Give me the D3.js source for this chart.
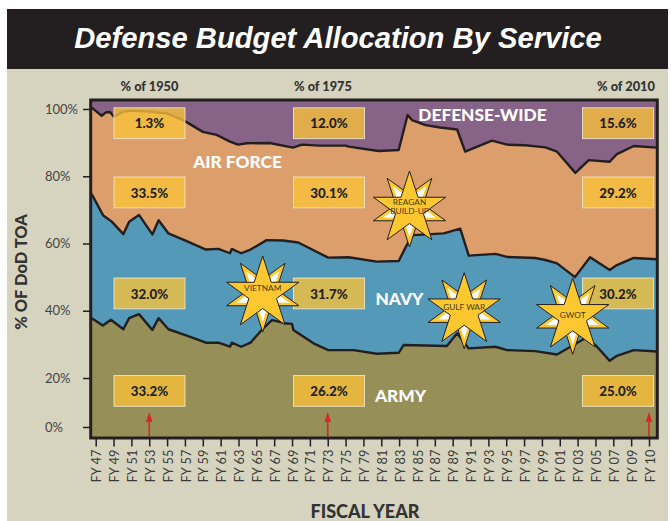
<!DOCTYPE html>
<html>
<head>
<meta charset="utf-8">
<script src="https://cdn.jsdelivr.net/npm/d3@7"></script>
<style>
  html, body { margin: 0; padding: 0; background: #fff; }
  svg { display: block; }
  text { font-family: Lato, sans-serif; }
</style>
</head>
<body>
<svg id="chart" width="671" height="521"></svg>
<script>
// axis
var tickLabels = ['FY 47','FY 49','FY 51','FY 53','FY 55','FY 57','FY 59','FY 61','FY 63','FY 65','FY 67','FY 69','FY 71','FY 73','FY 75','FY 79','FY 81','FY 83','FY 85','FY 87','FY 89','FY 91','FY 93','FY 95','FY 97','FY 99','FY 01','FY 03','FY 05','FY 07','FY 09','FY 10'];
var tickYears = [1947,1949,1951,1953,1955,1957,1959,1961,1963,1965,1967,1969,1971,1973,1975,1979,1981,1983,1985,1987,1989,1991,1993,1995,1997,1999,2001,2003,2005,2007,2009,2010];
var pctTicks = [0,20,40,60,80,100];

// cumulative top of each band
var airForceYears = [1946.55,1947.67,1948.15,1948.6,1949.05,1950.06,1951.18,1952.7,1954.95,1956.8,1957.75,1959,1960.55,1962.05,1962.95,1963.9,1966.5,1969.1,1970.1,1972.1,1975,1975.7,1980.7,1982.95,1983.95,1984.45,1985.95,1987.6,1989.5,1990.4,1993.4,1995.1,1997.15,1999.4,2000.7,2002.75,2004.25,2006.6,2007.4,2009.15,2010.45];
var airForceTop = [100.4,98,99,99.1,97.7,99.2,99.5,99.3,98.7,96.7,95.2,93.2,92.3,90.3,89.4,89.8,89.9,88.5,89.4,89.1,89.1,88.8,87.5,87.8,98.2,96.7,95.2,94.5,93.9,87.3,90.6,89.4,89.2,88.6,87.3,81,84.8,84.3,86.6,89,88.5];

var navyYears = [1946.55,1947.85,1948.8,1950.1,1950.75,1951.85,1953.35,1954.05,1955.15,1957.2,1959.35,1960.75,1962.05,1962.25,1963.3,1964.35,1966.15,1968,1969.7,1973.05,1975.7,1980.5,1982.95,1984.05,1984.6,1988,1989.85,1990.8,1993.8,1995.1,1998.25,1999.4,2000.7,2002.7,2004.4,2006.6,2007.4,2009.15,2010.45];
var navyTop = [74.7,68.3,66.5,62.8,66.5,68.5,62.7,66.9,63,60.7,58.2,58.4,57.1,58.4,57.1,58.2,61,60.9,60.3,55.8,55.9,54.6,54.8,60.5,62.5,63,64.4,56.4,56.9,56,55.7,55.1,54.1,50,55.9,52.1,53.6,55.7,55.3];

var armyYears = [1946.55,1947.8,1948.7,1950.1,1950.75,1951.85,1953.35,1954.05,1955.15,1957.2,1959.35,1960.75,1962.05,1962.25,1963.3,1964.35,1965.6,1966.75,1968.2,1969,1969.15,1971.4,1973.05,1976.8,1980.5,1982.95,1983.5,1988.35,1989.5,1990.8,1993.8,1995.1,1998.25,2000.7,2003.85,2005,2006.6,2007.4,2009.15,2010.45];
var armyTop = [37.8,35.6,37.3,34.5,37.8,39,34.3,37.8,34.5,32.6,30.5,30.5,29.3,30.5,29.3,30.5,34.3,37.2,36.3,36.1,34.3,30.3,28.3,28.3,27.2,27.5,29.8,29.5,33.3,28.8,29.3,28.3,28,27,31.8,29.8,25.1,26.6,28.3,27.9];

// shares printed in the boxes, top band first
var share1950 = [1.3,33.5,32.0,33.2];
var share1975 = [12.0,30.1,31.7,26.2];
var share2010 = [15.6,29.2,30.2,25.0];
var shareColumns = ['% of 1950','% of 1975','% of 2010'];
var arrowTicks = ['FY 53','FY 73','FY 10'];

var bandLabels = ['DEFENSE-WIDE','AIR FORCE','NAVY','ARMY'];
var starLabels = [['VIETNAM'],['REAGAN','BUILD-UP'],['GULF WAR'],['GWOT']];

var ink = '#231f20';
var plot = {left: 90.7, right: 657.3, top: 100, bottom: 438};

var svg = d3.select('#chart');

// page + header band
svg.append('rect').attr('x', 7).attr('y', 9).attr('width', 661).attr('height', 512).attr('fill', '#d6d4bf');
svg.append('rect').attr('x', 7).attr('y', 9).attr('width', 661).attr('height', 60).attr('fill', ink);
svg.append('text')
  .attr('x', 338).attr('y', 47.5)
  .attr('text-anchor', 'middle')
  .attr('fill', '#fff')
  .style('font-family', '"Liberation Sans", Arial, sans-serif')
  .style('font-weight', 'bold')
  .style('font-style', 'italic')
  .style('font-size', '29.2px')
  .text('Defense Budget Allocation By Service');

// scales
var xTick = d3.scalePoint().domain(tickLabels).range([95.7, 649]);
// the axis is not even in years (FY 77 is skipped, FY 09-10 is one step)
var x = d3.scaleLinear().domain(tickYears).range(tickLabels.map(function (d) { return xTick(d); }));
// 0% sits closer to 20% than the rest of the scale would put it
var y = d3.scaleLinear().domain([0, 20, 100]).range([427, 378, 109]);

// bands, painted back to front
svg.append('rect')
  .attr('x', plot.left).attr('y', plot.top)
  .attr('width', plot.right - plot.left).attr('height', plot.bottom - plot.top)
  .attr('fill', '#886388');

var bands = [
  {years: airForceYears, top: airForceTop, color: '#dc9e6a'},
  {years: navyYears, top: navyTop, color: '#5499b8'},
  {years: armyYears, top: armyTop, color: '#968f57'}
];

var area = d3.area()
  .x(function (d) { return x(d[0]); })
  .y0(plot.bottom)
  .y1(function (d) { return y(d[1]); });

var line = d3.line()
  .x(function (d) { return x(d[0]); })
  .y(function (d) { return y(d[1]); });

bands.forEach(function (b) {
  var pts = d3.zip(b.years, b.top);
  svg.append('path').attr('d', area(pts)).attr('fill', b.color);
  svg.append('path').attr('d', line(pts))
    .attr('fill', 'none').attr('stroke', ink).attr('stroke-width', 2.4).attr('stroke-linejoin', 'round');
});

// share boxes
var boxCols = [114, 293.5, 582.5];
var boxRows = [107.8, 177, 278, 375.5];
[share1950, share1975, share2010].forEach(function (vals, c) {
  var g = svg.append('g');
  var cells = g.selectAll('g').data(vals).enter().append('g')
    .attr('transform', function (d, i) { return 'translate(' + boxCols[c] + ',' + boxRows[i] + ')'; });
  cells.append('rect')
    .attr('width', 71).attr('height', 30.8)
    .attr('fill', '#fac23a').attr('fill-opacity', 0.78)
    .attr('stroke', '#efe7cf').attr('stroke-opacity', 0.85).attr('stroke-width', 1);
  cells.append('text')
    .attr('x', 35.5).attr('y', 20.5)
    .attr('text-anchor', 'middle')
    .attr('fill', ink)
    .style('font-weight', 900)
    .style('font-size', '13.3px')
    .text(function (d) { return d3.format('.1f')(d) + '%'; });
});

// column heads
var headX = [149.5, 323, 626];
svg.selectAll('.head').data(shareColumns).enter().append('text')
  .attr('class', 'head')
  .attr('x', function (d, i) { return headX[i]; })
  .attr('y', 90.5)
  .attr('text-anchor', 'middle')
  .attr('fill', '#333')
  .style('font-weight', 900)
  .style('font-size', '12.8px')
  .text(function (d) { return d; });

// band names
var bandPos = [[482.5, 120.7], [237.5, 167.7], [399.5, 304.7], [400.5, 401.7]];
svg.selectAll('.band').data(bandLabels).enter().append('text')
  .attr('class', 'band')
  .attr('x', function (d, i) { return bandPos[i][0]; })
  .attr('y', function (d, i) { return bandPos[i][1]; })
  .attr('text-anchor', 'middle')
  .attr('fill', '#fff')
  .style('font-weight', 900)
  .style('font-size', '17.3px')
  .text(function (d) { return d; });

// red arrows
arrowTicks.forEach(function (t) {
  var ax = xTick(t);
  svg.append('line').attr('x1', ax).attr('x2', ax).attr('y1', 436.5).attr('y2', 420)
    .attr('stroke', '#d8262b').attr('stroke-width', 1.6);
  svg.append('path')
    .attr('d', d3.line()([[ax - 3.3, 422], [ax, 412], [ax + 3.3, 422]]) + 'Z')
    .attr('fill', '#d8262b');
});

// frame
svg.append('rect')
  .attr('x', plot.left).attr('y', plot.top)
  .attr('width', plot.right - plot.left).attr('height', plot.bottom - plot.top)
  .attr('fill', 'none').attr('stroke', ink).attr('stroke-width', 3);

// axes
var xAxis = svg.append('g')
  .attr('transform', 'translate(0,' + (plot.bottom + 1) + ')')
  .call(d3.axisBottom(xTick).tickSize(7.5).tickPadding(0));
xAxis.select('.domain').remove();
xAxis.selectAll('line').attr('stroke', ink).attr('stroke-width', 1.5);
xAxis.selectAll('text')
  .attr('transform', function () { return 'translate(0.5,43.5) rotate(-90)'; })
  .attr('x', 0).attr('y', 0).attr('dy', '0.36em')
  .attr('text-anchor', 'start')
  .attr('fill', '#3a3a3a')
  .style('font-family', 'Lato, sans-serif')
  .style('font-size', '12.8px');

var yAxis = svg.append('g')
  .attr('transform', 'translate(90,0)')
  .call(d3.axisLeft(y).tickValues(pctTicks).tickSize(7).tickFormat(function (d) { return d + '%'; }));
yAxis.select('.domain').remove();
yAxis.selectAll('line').attr('stroke', ink).attr('stroke-width', 1.5);
yAxis.selectAll('text')
  .attr('x', -45).attr('text-anchor', 'start')
  .attr('fill', '#444')
  .style('font-family', 'Lato, sans-serif')
  .style('font-size', '13px');

// axis titles
svg.append('text')
  .attr('transform', 'translate(27,272) rotate(-90)')
  .attr('text-anchor', 'middle')
  .attr('fill', '#333')
  .style('font-weight', 900)
  .style('font-size', '16.5px')
  .text('% OF DoD TOA');
svg.append('text')
  .attr('x', 365).attr('y', 517.5)
  .attr('text-anchor', 'middle')
  .attr('fill', '#333')
  .style('font-weight', 900)
  .style('font-size', '18px')
  .text('FISCAL YEAR');

// event stars
var starCenters = [[262.7, 294], [409.5, 209], [464.2, 310.7], [572.7, 316.3]];
var starTextY = [-3, -4, -0.7, 1.7];
var starR = 38;
var star = d3.lineRadial()
  .angle(function (d) { return d[0]; })
  .radius(function (d) { return d[1]; })
  .curve(d3.curveLinearClosed);
function starPoints(R) {
  return d3.range(10).map(function (i) {
    return [i * Math.PI / 5, i % 2 ? R * 0.382 : R];
  });
}

var stars = svg.selectAll('.star').data(starLabels).enter().append('g')
  .attr('class', 'star')
  .attr('transform', function (d, i) { return 'translate(' + starCenters[i] + ')'; });
stars.append('path')
  .attr('d', star(starPoints(starR)))
  .attr('transform', 'rotate(180)')
  .attr('fill', '#fdc82f').attr('stroke', ink).attr('stroke-width', 1);
stars.append('path')
  .attr('d', star(starPoints(starR * 0.74)))
  .attr('transform', 'rotate(180)')
  .attr('fill', '#fff');
stars.append('path')
  .attr('d', star(starPoints(starR)))
  .attr('fill', '#fdc82f').attr('stroke', ink).attr('stroke-width', 1);
stars.each(function (lines, k) {
  var g = d3.select(this);
  lines.forEach(function (s, i) {
    g.append('text')
      .attr('y', starTextY[k] + i * 8.5)
      .attr('text-anchor', 'middle')
      .attr('fill', '#3f3a1c')
      .style('font-size', '8.3px')
      .text(s);
  });
});
</script>
</body>
</html>
